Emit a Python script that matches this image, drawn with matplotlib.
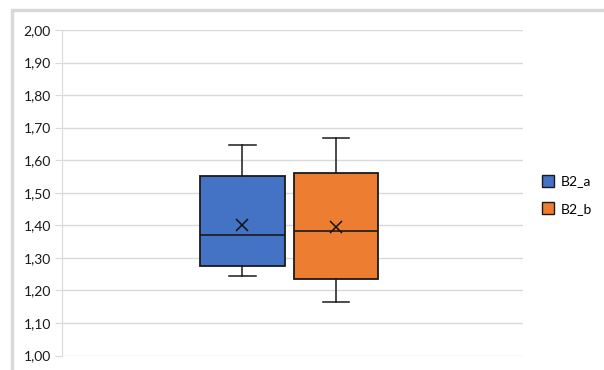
import matplotlib
matplotlib.use("Agg")
import matplotlib.pyplot as plt
from matplotlib.patches import Rectangle
from matplotlib.lines import Line2D
from matplotlib.ticker import FuncFormatter

series = ["B2_a", "B2_b"]
colors = ["#4472C4", "#ED7D31"]
whislo = [1.245, 1.163]
q1 = [1.276, 1.235]
med = [1.371, 1.383]
q3 = [1.550, 1.560]
whishi = [1.647, 1.667]
means = [1.402, 1.394]
yticks = [1.0, 1.1, 1.2, 1.3, 1.4, 1.5, 1.6, 1.7, 1.8, 1.9, 2.0]

plt.rcParams['font.family'] = ['Lato', 'DejaVu Sans']
W, H = 604, 370
fig = plt.figure(figsize=(W / 100, H / 100), dpi=100)
ax = fig.add_axes([62 / W, 1 - 355.5 / H, (523 - 62) / W, (355.5 - 30) / H])

# outer frame
fig.patches.append(Rectangle((12 / W, -0.2), 1.2, 1 - 10 / H + 0.2,
                             transform=fig.transFigure, fill=False,
                             edgecolor="#d9d9d9", linewidth=2.5, zorder=0))

stats = []
for i in range(len(series)):
    stats.append(dict(label=series[i], whislo=whislo[i], q1=q1[i], med=med[i],
                      q3=q3[i], whishi=whishi[i], mean=means[i], fliers=[]))
positions = [1, 2]
bp = ax.bxp(stats, positions=positions, widths=0.905, patch_artist=True,
            showmeans=True, meanline=False,
            boxprops=dict(linewidth=1.3, edgecolor="#1a1a1a"),
            medianprops=dict(color="#1a1a1a", linewidth=1.2),
            whiskerprops=dict(color="#1a1a1a", linewidth=1.1),
            capprops=dict(color="#1a1a1a", linewidth=1.1),
            meanprops=dict(marker="x", markeredgecolor="#111111", markersize=8,
                           markeredgewidth=1.1),
            capwidths=0.28)
for patch, c in zip(bp["boxes"], colors):
    patch.set_facecolor(c)

ax.set_xlim(-0.930, 4.001)
ax.set_ylim(1.0, 2.0)
ax.set_yticks(yticks)
ax.yaxis.set_major_formatter(FuncFormatter(lambda v, p: f"{v:.2f}".replace(".", ",")))
ax.set_xticks([])
ax.grid(axis="y", color="#d9d9d9", linewidth=1)
ax.set_axisbelow(True)
for s in ["top", "right", "bottom"]:
    ax.spines[s].set_visible(False)
ax.spines["left"].set_color("#d9d9d9")
ax.tick_params(axis="y", length=5, color="#d9d9d9", labelsize=10,
               labelcolor="#1a1a1a", pad=3)

handles = [Line2D([], [], marker="s", linestyle="none", markersize=9,
                  markerfacecolor=c, markeredgecolor="#1a1a1a", markeredgewidth=1)
           for c in colors]
fig.legend(handles, series, loc="upper left", bbox_to_anchor=(527 / W, 1 - 163 / H),
           frameon=False, fontsize=10, handletextpad=0.3, labelspacing=1.1,
           handlelength=1.2)

fig.savefig("out.png", dpi=100)
